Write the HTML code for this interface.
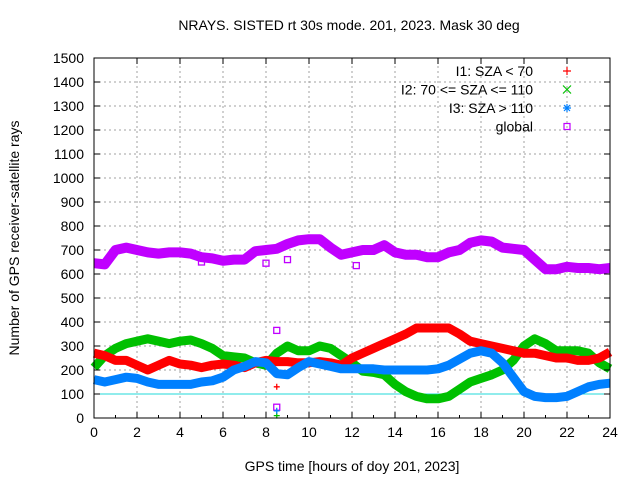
<!DOCTYPE html>
<html><head><meta charset="utf-8"><style>
body{margin:0;background:#fff}
svg text{font-family:"Liberation Sans",sans-serif;font-size:14px;fill:#000}
</style></head><body>
<svg id="c" width="640" height="480" xmlns="http://www.w3.org/2000/svg">
<rect width="640" height="480" fill="#fff"/>
<g id="grid"></g><g id="series"></g><g id="axes"></g>
</svg>
<script>
const hours=[0,0.5,1,1.5,2,2.5,3,3.5,4,4.5,5,5.5,6,6.5,7,7.5,8,8.5,9,9.5,10,10.5,11,11.5,12,12.5,13,13.5,14,14.5,15,15.5,16,16.5,17,17.5,18,18.5,19,19.5,20,20.5,21,21.5,22,22.5,23,23.5,24];
const globalVals=[645,640,700,710,700,690,685,690,690,685,670,665,655,660,660,695,700,705,725,740,745,745,710,680,690,700,700,720,690,680,680,670,670,690,700,730,740,735,710,705,700,660,620,620,630,625,625,620,625];
const i1Vals=[270,260,240,240,220,200,220,240,225,220,210,220,225,220,210,230,240,235,235,230,230,235,230,220,250,270,290,310,330,350,375,375,375,375,350,320,310,300,290,280,270,270,260,250,250,240,240,250,275];
const i2Vals=[210,260,290,310,320,330,320,310,320,325,310,290,260,255,250,230,220,270,300,280,280,300,290,260,230,195,190,180,140,110,90,80,80,90,120,150,165,180,200,240,300,330,310,280,280,280,270,230,205];
const i3Vals=[160,150,160,170,165,150,140,140,140,140,150,155,170,200,215,235,230,185,180,210,235,225,215,205,205,205,205,200,200,200,200,200,205,220,245,270,280,270,230,170,110,90,85,85,90,110,130,140,145];
const outlierX=[8.5,8.5,8.5,8.5,8.5,5,8,9,12.2];
const outlierY=[130,365,45,10,30,650,645,660,635];
const outlierS=["i1","global","global","i2","i3","global","global","global","global"];
const yTicks=[0,100,200,300,400,500,600,700,800,900,1000,1100,1200,1300,1400,1500];
const xTicks=[0,2,4,6,8,10,12,14,16,18,20,22,24];
const X0=94,X1=610,Y0=418,Y1=58;
const sx=h=>X0+(h/24)*(X1-X0);
const sy=v=>Y0-(v/1500)*(Y0-Y1);
const NS="http://www.w3.org/2000/svg";
function mk(t,a,p){const e=document.createElementNS(NS,t);for(const k in a)e.setAttribute(k,a[k]);p.appendChild(e);return e;}
const grid=document.getElementById('grid'),ser=document.getElementById('series'),ax=document.getElementById('axes'),svg=document.getElementById('c');
yTicks.forEach(v=>{
 if(v>0&&v<1500){const l=mk('line',{x1:X0,x2:X1,y1:sy(v),y2:sy(v),stroke:'#a0a0a0','stroke-dasharray':'2,3'},grid);
 }
 const t=mk('text',{x:X0-10,y:sy(v)+5,'text-anchor':'end'},ax);t.textContent=v;
 
 mk('line',{x1:X0,x2:X0+6,y1:sy(v),y2:sy(v),stroke:'#000'},ax);mk('line',{x1:X1,x2:X1-6,y1:sy(v),y2:sy(v),stroke:'#000'},ax);
});
xTicks.forEach(h=>{
 if(h>0&&h<24){const l=mk('line',{x1:sx(h),x2:sx(h),y1:Y0,y2:Y1,stroke:'#a0a0a0','stroke-dasharray':'2,3'},grid);
 }
 const t=mk('text',{x:sx(h),y:Y0+19,'text-anchor':'middle'},ax);t.textContent=h;
 
 mk('line',{x1:sx(h),x2:sx(h),y1:Y0,y2:Y0-6,stroke:'#000'},ax);mk('line',{x1:sx(h),x2:sx(h),y1:Y1,y2:Y1+6,stroke:'#000'},ax);
 if(h<24){mk('line',{x1:sx(h+1),x2:sx(h+1),y1:Y0,y2:Y0-3,stroke:'#000'},ax);}
});
const ref=mk('line',{x1:X0,x2:X1,y1:sy(100),y2:sy(100),stroke:'#20d8d8'},grid);

const cols={global:'#c000ff',i1:'#ff0000',i2:'#00c000',i3:'#0080ff'};
[['global',globalVals,10],['i2',i2Vals,9],['i1',i1Vals,9],['i3',i3Vals,9]].forEach(([k,vals,w])=>{
 const p=mk('polyline',{points:hours.map((h,i)=>sx(h)+','+sy(vals[i])).join(' '),fill:'none',stroke:cols[k],'stroke-width':w,'stroke-linejoin':'round'},ser);
 
});
outlierX.forEach((h,i)=>{
 const x=sx(h),y=sy(outlierY[i]),k=outlierS[i];let e;
 if(k==='global')e=mk('rect',{x:x-3,y:y-3,width:6,height:6,fill:'none',stroke:cols[k],'stroke-width':1.3},ser);
 else e=mk('path',{d:`M${x-3} ${y}h6M${x} ${y-3}v6`,stroke:cols[k],'stroke-width':1.3},ser);
 
});
const fr=mk('rect',{x:X0,y:Y1,width:X1-X0,height:Y0-Y1,fill:'none',stroke:'#000'},ax);

const leg=[['I1: SZA < 70','i1','+'],['I2: 70 <= SZA <= 110','i2','x'],['I3: SZA > 110','i3','*'],['global','global','s']];
leg.forEach(([lab,k,m],i)=>{
 const y=71+i*18.5;const g=mk('g',{},svg);
 
 const t=mk('text',{x:533,y:y+5,'text-anchor':'end'},g);t.textContent=lab;
 const x=567,c=cols[k];
 if(m==='+')mk('path',{d:`M${x-4} ${y}h8M${x} ${y-4}v8`,stroke:c,'stroke-width':1.2},g);
 if(m==='x')mk('path',{d:`M${x-4} ${y-4}l8 8M${x+4} ${y-4}l-8 8`,stroke:c,'stroke-width':1.2},g);
 if(m==='*')mk('path',{d:`M${x-4} ${y}h8M${x} ${y-4}v8M${x-3} ${y-3}l6 6M${x+3} ${y-3}l-6 6`,stroke:c,'stroke-width':1.2},g);
 if(m==='s')mk('rect',{x:x-3,y:y-3,width:6,height:6,fill:'none',stroke:c,'stroke-width':1.2},g);
});
</script>
<div style="position:absolute;left:0;top:0;width:640px;height:480px;pointer-events:none">
<svg width="640" height="480" xmlns="http://www.w3.org/2000/svg">
<text x="349" y="30" text-anchor="middle" style="font-family:'Liberation Sans',sans-serif;font-size:14px">NRAYS. SISTED rt 30s mode. 201, 2023. Mask 30 deg</text>
<text x="352" y="471" text-anchor="middle" style="font-family:'Liberation Sans',sans-serif;font-size:14px">GPS time [hours of doy 201, 2023]</text>
<text x="19" y="238" text-anchor="middle" transform="rotate(-90 19 238)" style="font-family:'Liberation Sans',sans-serif;font-size:14px">Number of GPS receiver-satellite rays</text>
</svg></div>
</body></html>
